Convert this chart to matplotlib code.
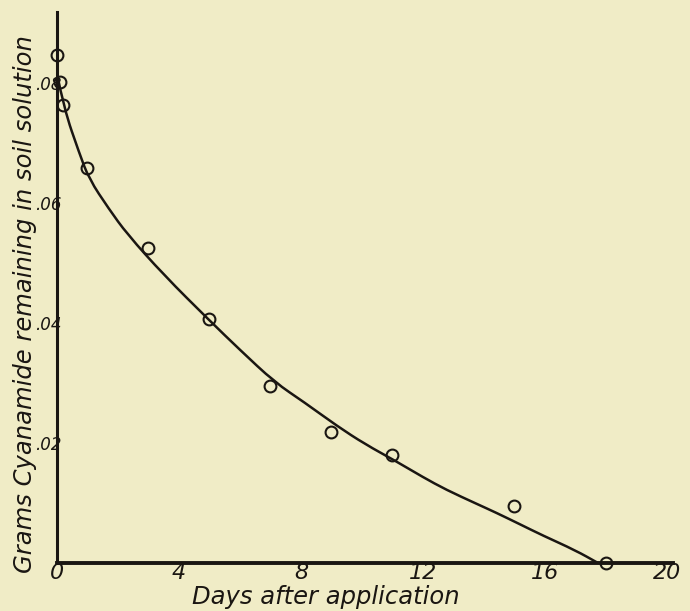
import matplotlib
matplotlib.use("Agg")
import matplotlib.pyplot as plt
from matplotlib.path import Path
from matplotlib.patches import PathPatch

# ── data ──────────────────────────────────────────────────────────────────────
days_obs = [0, 0.1, 0.2, 1, 3, 5, 7, 9, 11, 15, 18]
grams_obs = [0.0847, 0.0802, 0.0763, 0.0658, 0.0524, 0.0406, 0.0295,
             0.0218, 0.0180, 0.0095, 0.0]

# the hand-drawn smooth curve, read at points along it
days_curve = [0, 0.23, 0.73, 1.05, 1.7, 2.3, 3.5, 4.98, 6.0, 7.14, 8.1,
              9.19, 10.1, 11.1, 12.0, 12.76, 13.74, 14.39, 15.2, 15.92,
              17.0, 17.74]
grams_curve = [0.0815, 0.0757, 0.0683, 0.0640, 0.0590, 0.0548, 0.0480,
               0.0405, 0.0355, 0.0301, 0.0268, 0.0228, 0.0198, 0.0170,
               0.0143, 0.0122, 0.0099, 0.0084, 0.0064, 0.0046, 0.0021,
               0.0]

x_ticks = [0, 4, 8, 12, 16, 20]
x_labels = ["0", "4", "8", "12", "16", "20"]
y_ticks = [0.02, 0.04, 0.06, 0.08]
y_labels = [".02", ".04", ".06", ".08"]

BG = "#F0ECC6"
INK = "#1a1612"


def smooth_path(xs, ys):
    # quadratic bezier through midpoints, read points act as control points
    pts = list(zip(xs, ys))
    verts = [pts[0]]
    codes = [Path.MOVETO]
    for i in range(1, len(pts) - 1):
        mid = ((pts[i][0] + pts[i + 1][0]) / 2, (pts[i][1] + pts[i + 1][1]) / 2)
        verts += [pts[i], mid]
        codes += [Path.CURVE3, Path.CURVE3]
    verts.append(pts[-1])
    codes.append(Path.LINETO)
    return Path(verts, codes)


fig = plt.figure(figsize=(6.9, 6.11), dpi=100, facecolor=BG)
ax = fig.add_axes([0.0826, 0.0786, 0.8928, 0.9018])
ax.set_facecolor(BG)

ax.add_patch(PathPatch(smooth_path(days_curve, grams_curve), facecolor="none",
                       edgecolor=INK, linewidth=1.8, zorder=3,
                       capstyle="round", joinstyle="round"))
ax.plot(days_obs, grams_obs, "o", markersize=8.5, markerfacecolor="none",
        markeredgecolor=INK, markeredgewidth=1.5, zorder=4, clip_on=False)

ax.set_xlim(0, 20.2)
ax.set_ylim(0, 0.0918)

for s in ["top", "right"]:
    ax.spines[s].set_visible(False)
ax.spines["left"].set_linewidth(2.2)
ax.spines["bottom"].set_linewidth(2.8)
ax.spines["left"].set_color(INK)
ax.spines["bottom"].set_color(INK)

ital = dict(family="DejaVu Sans", style="italic", color=INK)

ax.set_xticks(x_ticks)
ax.set_xticklabels(x_labels, fontsize=16, **ital)
ax.set_yticks(y_ticks)
ax.set_yticklabels(y_labels, fontsize=12, **ital)
ax.tick_params(axis="both", length=0)
ax.tick_params(axis="x", pad=0)
ax.tick_params(axis="y", pad=-3)

ax.set_xlabel("Days after application", fontsize=17.5, **ital)
ax.xaxis.set_label_coords(0.437, -0.040)
ax.set_ylabel("Grams Cyanamide remaining in soil solution", fontsize=17.5, **ital)
ax.yaxis.set_label_coords(-0.033, 0.47)

plt.savefig("out.png", dpi=100, facecolor=BG)
plt.close()
